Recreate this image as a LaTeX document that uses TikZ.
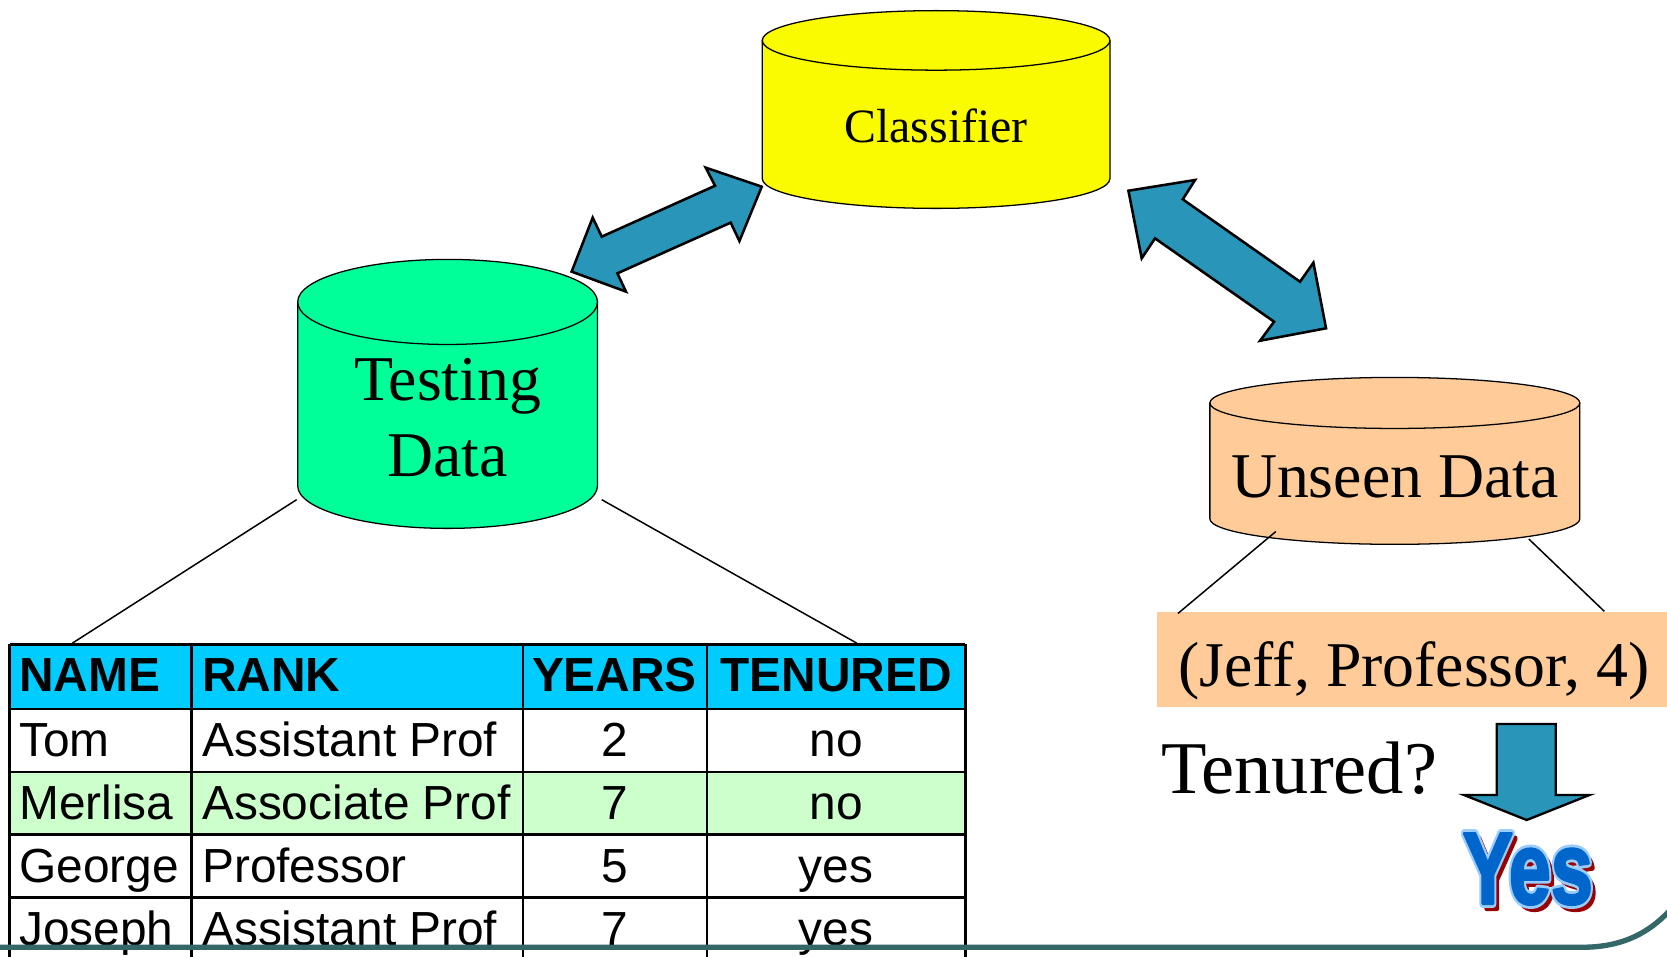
\documentclass[tikz,border=0pt]{standalone}
\usepackage{fontspec}
\setmainfont{Liberation Serif}
\newfontfamily\tablefont{Liberation Sans}
\usetikzlibrary{calc}

\definecolor{clsyellow}{RGB}{250,250,0}
\definecolor{testgreen}{RGB}{0,255,153}
\definecolor{peach}{RGB}{255,204,153}
\definecolor{arrowblue}{RGB}{41,150,185}
\definecolor{headcyan}{RGB}{0,204,255}
\definecolor{rowgreen}{RGB}{204,255,204}
\definecolor{slateteal}{RGB}{52,104,104}
\definecolor{yesblue}{RGB}{0,102,204}
\definecolor{yesshadow}{RGB}{153,0,0}

% database cylinder: centre x, x radius, top y, bottom y, y radius, fill
\newcommand{\dbcylinder}[6]{%
  \fill[#6] (#1-#2,#3) -- (#1-#2,#4)
    arc[start angle=180,end angle=0,x radius=#2,y radius=#5]
    -- (#1+#2,#3)
    arc[start angle=0,end angle=-180,x radius=#2,y radius=#5] -- cycle;
  \draw[cylline] (#1-#2,#3) -- (#1-#2,#4)
    arc[start angle=180,end angle=0,x radius=#2,y radius=#5]
    -- (#1+#2,#3);
  \draw[cylline] (#1,#3) ellipse[x radius=#2,y radius=#5];
}

% heavy condensed answer word: red drop shadow, light blue rim, blue face
\newcommand{\yesword}{\tablefont\bfseries\fontsize{96}{96}\selectfont Yes}
\newcommand{\yesart}{\scalebox{0.74}[1]{%
  \rlap{\kern5pt\raisebox{-4.5pt}{\color{yesshadow}%
    \special{pdf:literal direct 2 Tr 5 w 0.6 0 0 RG 1 j}\yesword\special{pdf:literal direct 0 Tr}}}%
  \rlap{\special{pdf:literal direct 1 Tr 8 w 0.6 0.8 1 RG 1 j}\yesword\special{pdf:literal direct 0 Tr}}%
  {\color{yesblue}%
    \special{pdf:literal direct 2 Tr 2.6 w 0 0.4 0.8 RG 1 j}\yesword\special{pdf:literal direct 0 Tr}}}}

\begin{document}
\begin{tikzpicture}[x=1pt,y=-1pt,
  cylline/.style={draw=black,line width=1.2pt},
  dblarrow/.style={fill=arrowblue,draw=black,line width=2.4pt,line join=miter},
  leader/.style={draw=black,line width=1.4pt},
  gridline/.style={draw=black,line width=2.5pt},
  serifbig/.style={inner sep=0pt,font=\fontsize{60}{72}\selectfont},
  cellhead/.style={inner sep=0pt,anchor=base,font=\tablefont\bfseries\fontsize{45}{54}\selectfont},
  cellbody/.style={inner sep=0pt,anchor=base,font=\tablefont\fontsize{45}{54}\selectfont}
]
\useasboundingbox (0,0) rectangle (1568,900);
\fill[white] (0,0) rectangle (1568,900);

% --- cylinders ---
\dbcylinder{880.5}{163.5}{38}{168}{28}{clsyellow}
\dbcylinder{421}{141}{284}{457}{40}{testgreen}
\dbcylinder{1312}{174}{379}{488}{24}{peach}

\node[inner sep=0pt,anchor=base,font=\fontsize{45}{54}\selectfont] (classifier) at (880.5,134) {Classifier};
\node[serifbig,align=center] (testing) at (421,393) {Testing\\Data};
\node[serifbig,anchor=base] (unseen) at (1312,468) {Unseen Data};

% --- two-headed arrows ---
\draw[dblarrow] (537.7,255.5) -- (557.5,204.7) -- (566,222.6) -- (672.6,174.7)
  -- (663.8,157.7) -- (716.5,175.6) -- (695.5,226.7) -- (687.3,209.4)
  -- (580.7,257.1) -- (588.8,274.3) -- cycle;
\draw[dblarrow] (1061.4,179.4) -- (1124.1,169.3) -- (1112.5,187.5) -- (1222.8,265)
  -- (1235.4,247.1) -- (1247.3,308.8) -- (1185.2,320.5) -- (1198.4,302.6)
  -- (1086.4,224.2) -- (1073.9,243) -- cycle;

% --- unseen record ---
\fill[peach] (1088,576) rectangle (1568,665);
\node[serifbig,anchor=base] (record) at (1330,646) {(Jeff, Professor, 4)};

\coordinate (unseenL) at (1200,500);
\coordinate (unseenR) at (1438,507);
\coordinate (recordL) at (1108,577);
\coordinate (recordR) at (1509,575);
\draw[leader] (unseenL) -- (recordL);
\draw[leader] (unseenR) -- (recordR);

% --- question and answer ---
\node[inner sep=0pt,anchor=base,font=\fontsize{70}{84}\selectfont] (question) at (1222,746) {Tenured?};
\draw[dblarrow,line width=2.2pt] (1407.8,681) -- (1463.3,681) -- (1463.3,747.8) -- (1495,747.8)
  -- (1436,771.3) -- (1377.1,747.8) -- (1407.8,747.8) -- cycle;

\node[inner sep=0pt,anchor=base] (yes) at (1437,850) {\yesart};

% --- training table ---
\fill[headcyan] (9,606) rectangle (908,667);
\fill[rowgreen] (9,726) rectangle (908,785);
\foreach \yy in {606,667,726,785,844}
  \draw[gridline] (9,\yy) -- (908,\yy);
\foreach \xx in {9,180,492,665,908}
  \draw[gridline] (\xx,606) -- (\xx,902);

\node[cellhead,anchor=base west] (hname) at (18,650) {NAME};
\node[cellhead,anchor=base west] (hrank) at (190,650) {RANK};
\node[cellhead] (hyears) at (578,650) {YEARS};
\node[cellhead] (htenured) at (786.5,650) {TENURED};

\node[cellbody,anchor=base west] (n1) at (18,712) {Tom};
\node[cellbody,anchor=base west] (r1) at (190,712) {Assistant Prof};
\node[cellbody] (y1) at (578,712) {2};
\node[cellbody] (t1) at (786.5,712) {no};

\node[cellbody,anchor=base west] (n2) at (18,771) {Merlisa};
\node[cellbody,anchor=base west] (r2) at (190,771) {Associate Prof};
\node[cellbody] (y2) at (578,771) {7};
\node[cellbody] (t2) at (786.5,771) {no};

\node[cellbody,anchor=base west] (n3) at (18,830) {George};
\node[cellbody,anchor=base west] (r3) at (190,830) {Professor};
\node[cellbody] (y3) at (578,830) {5};
\node[cellbody] (t3) at (786.5,830) {yes};

\node[cellbody,anchor=base west] (n4) at (18,889) {Joseph};
\node[cellbody,anchor=base west] (r4) at (190,889) {Assistant Prof};
\node[cellbody] (y4) at (578,889) {7};
\node[cellbody] (t4) at (786.5,889) {yes};

% leaders from the test set down to the table
\coordinate (testL) at (279,470);
\coordinate (testR) at (566,470);
\coordinate (tableL) at (68,605);
\coordinate (tableR) at (806,605);
\draw[leader] (testL) -- (tableL);
\draw[leader] (testR) -- (tableR);

% --- slide footer rule ---
\draw[slateteal,line width=5pt] (0,891) -- (1488,891)
  .. controls (1528,891) and (1552,876) .. (1570,857);
\end{tikzpicture}
\end{document}
